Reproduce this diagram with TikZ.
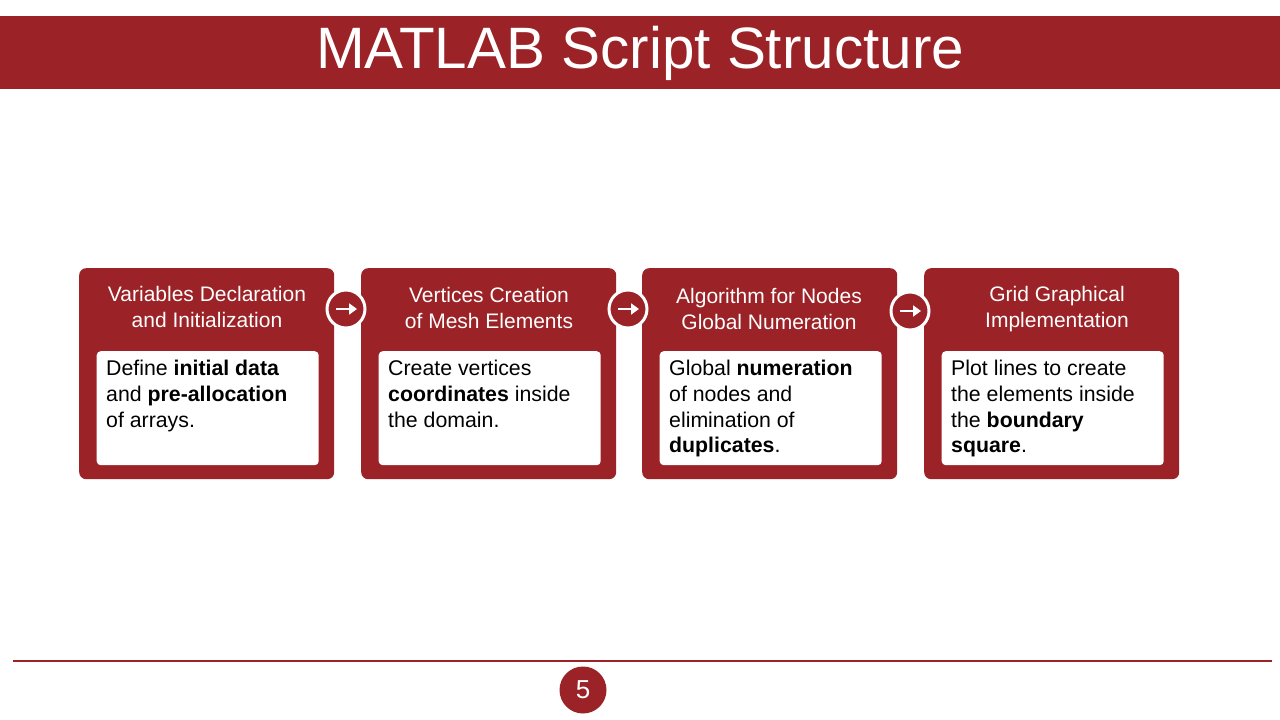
\documentclass[tikz,border=0pt]{standalone}
\usepackage{fontspec}
\setmainfont{Liberation Sans}
\usetikzlibrary{arrows.meta}
\definecolor{mred}{RGB}{155,34,38}
\tikzset{
  outerbox/.style={fill=mred,draw=none,rounded corners=7pt,minimum width=255pt,minimum height=211pt,inner sep=0pt,anchor=north west},
  innerbox/.style={fill=white,draw=none,rounded corners=4pt,minimum width=222pt,minimum height=114pt,inner sep=0pt,anchor=north west},
  headtext/.style={text=white,font=\fontsize{21}{25.5}\selectfont,align=center,inner sep=0pt},
  bodytext/.style={text=black,font=\fontsize{21.3}{25.7}\selectfont,align=left,inner sep=0pt,anchor=north west},
  arrowcirc/.style={circle,fill=mred,draw=white,line width=3pt,minimum size=38pt,inner sep=0pt},
  warrow/.style={white,line width=2.6pt,-{Triangle[length=8pt,width=11pt]}},
}
\begin{document}
\begin{tikzpicture}[x=1pt,y=-1pt]
\useasboundingbox[fill=white] (0,0) rectangle (1280,720);
% title bar
\node[fill=mred,minimum width=1280pt,minimum height=73pt,inner sep=0pt,anchor=north west] (bar) at (0,16) {};
\node[text=white,font=\fontsize{58.4}{60}\selectfont,inner sep=0pt] (title) at (640,53) {MATLAB Script Structure};
% boxes
\foreach \i/\x in {1/79,2/361,3/642,4/924}{
  \node[outerbox] (ob\i) at (\x,268) {};
  \node[innerbox] (ib\i) at (\x+17.5,351) {};
}
% headers
\node[headtext] (h1) at (207,307) {Variables Declaration\\and Initialization};
\node[headtext] (h2) at (489,308) {Vertices Creation\\of Mesh Elements};
\node[headtext] (h3) at (769,309) {Algorithm for Nodes\\Global Numeration};
\node[headtext] (h4) at (1057,309) {Grid Graphical\\Implementation};
% body texts
\node[bodytext] (t1) at (106,360) {Define \textbf{initial data}\\and \textbf{pre-allocation}\\of arrays.};
\node[bodytext] (t2) at (388,360) {Create vertices\\\textbf{coordinates} inside\\the domain.};
\node[bodytext] (t3) at (669,360) {Global \textbf{numeration}\\of nodes and\\elimination of\\\textbf{duplicates}.};
\node[bodytext] (t4) at (951,360) {Plot lines to create\\the elements inside\\the \textbf{boundary}\\\textbf{square}.};
% arrow circles
\foreach \i/\x/\y in {1/346/309,2/628/309,3/910/311}{
  \node[arrowcirc] (c\i) at (\x,\y) {};
  \draw[warrow] ([xshift=-10pt]c\i.center) -- ([xshift=11pt]c\i.center);
}
% bottom line and page number
\coordinate (la) at (13,661);
\coordinate (lb) at (1272,661);
\draw[mred,line width=1.3pt] (la) -- (lb);
\node[circle,fill=mred,minimum size=47pt,inner sep=0pt,text=white,font=\fontsize{26}{30}\selectfont] (pg) at (583,690) {5};
\end{tikzpicture}
\end{document}
